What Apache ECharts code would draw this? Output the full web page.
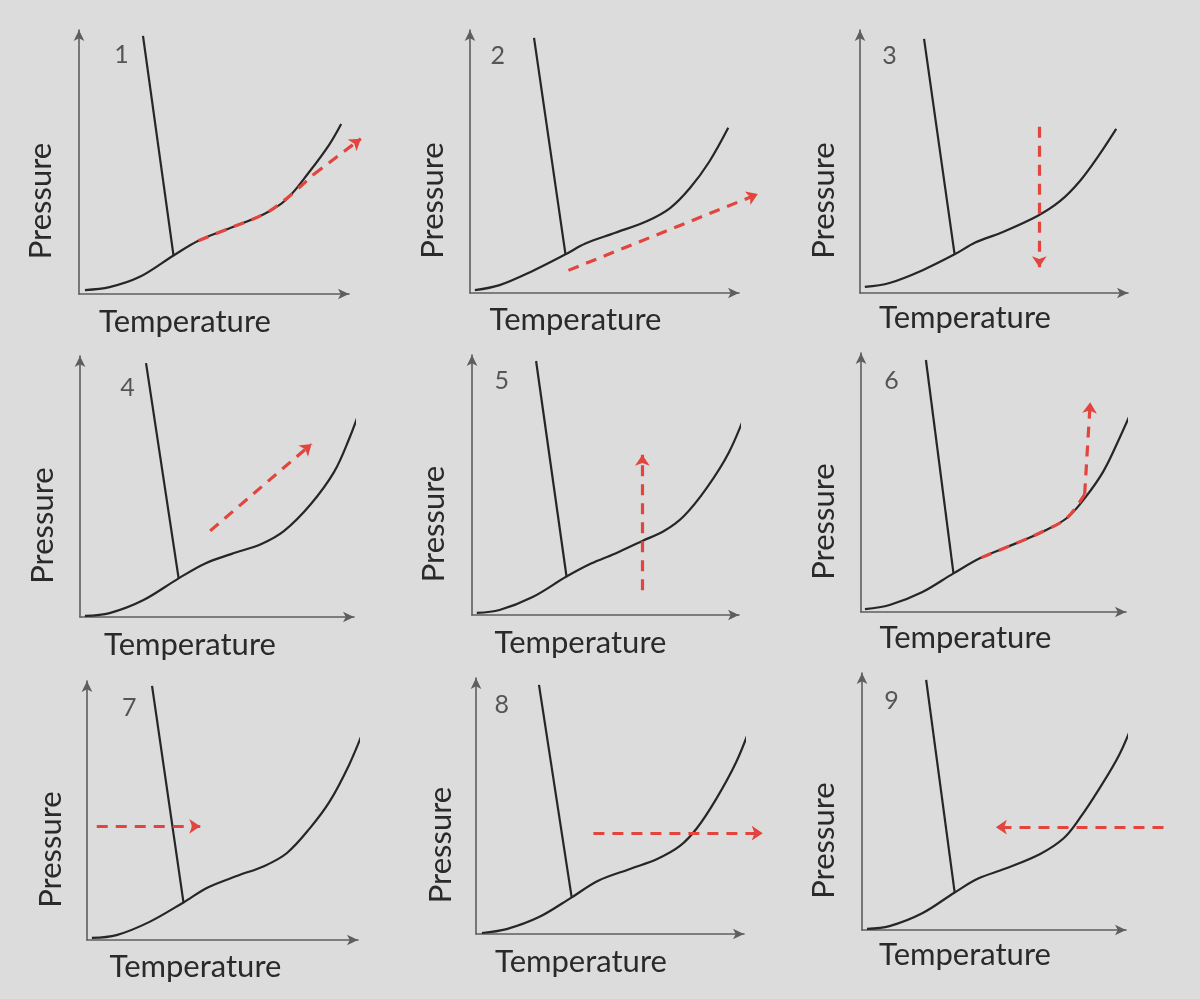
<!DOCTYPE html>
<html>
<head>
<meta charset="utf-8">
<script src="https://cdn.jsdelivr.net/npm/echarts@6/dist/echarts.min.js"></script>
<style>
html,body{margin:0;padding:0;background:#dcdcdc;}
#chart{width:1200px;height:999px;}
</style>
</head>
<body>
<div id="chart"></div>
<script>
// ---------- DATA (sketch units: temperature 0-100, pressure 0-100) ----------
const xName = 'Temperature';
const yName = 'Pressure';
const panelLabels = ['1', '2', '3', '4', '5', '6', '7', '8', '9'];

// solid–liquid (fusion) lines: [top point, triple point]
const fusion1 = [[23.7, 97.8], [35.0, 14.6]];
const fusion2 = [[23.8, 97.0], [35.5, 14.7]];
const fusion3 = [[23.9, 96.6], [35.3, 14.7]];
const fusion4 = [[24.1, 97.3], [36.0, 14.8]];
const fusion5 = [[24.0, 97.7], [35.4, 14.8]];
const fusion6 = [[24.5, 97.3], [34.9, 14.9]];
const fusion7 = [[24.0, 98.1], [35.6, 14.5]];
const fusion8 = [[23.5, 97.3], [35.7, 14.3]];
const fusion9 = [[24.3, 97.3], [35.1, 14.6]];

// sublimation + vaporization curve
const vapor1 = [[2.2, 1.5], [11.3, 2.6], [22.3, 6.4], [35.0, 14.6], [44.2, 20.2], [56.2, 25.1], [68.6, 30.3], [77.0, 36.0], [85.4, 46.4], [92.7, 56.6], [97.1, 64.4]];
const vapor2 = [[1.8, 1.1], [11.0, 3.0], [23.1, 8.3], [35.5, 14.7], [42.9, 18.8], [54.0, 22.9], [65.9, 27.4], [74.4, 32.3], [81.7, 39.8], [89.0, 50.0], [96.0, 62.8]];
const vapor3 = [[1.8, 2.3], [11.0, 3.8], [23.2, 8.6], [35.3, 14.7], [43.0, 19.2], [52.6, 22.9], [66.2, 29.3], [74.6, 34.9], [82.0, 42.5], [89.3, 52.6], [95.6, 62.4]];
const vapor4 = [[1.8, 0.4], [10.8, 1.5], [23.0, 6.4], [36.0, 14.8], [45.7, 20.5], [55.4, 24.2], [66.2, 28.0], [74.5, 33.0], [84.2, 43.2], [92.8, 55.7], [98.2, 68.2], [102.5, 80.3]];
const vapor5 = [[1.8, 0.8], [10.3, 1.9], [22.5, 6.8], [35.4, 14.8], [44.6, 19.8], [53.5, 23.6], [63.8, 28.5], [71.9, 32.3], [79.3, 38.0], [87.8, 48.7], [96.3, 62.7], [103.3, 79.8]];
const vapor6 = [[1.5, 1.1], [10.8, 2.7], [23.0, 7.6], [34.9, 14.9], [45.4, 21.0], [58.0, 26.3], [69.1, 31.3], [77.7, 36.3], [84.4, 43.9], [91.4, 54.2], [97.4, 66.8], [103.7, 81.3]];
const vapor7 = [[1.8, 0.8], [10.9, 1.9], [22.9, 6.9], [35.6, 14.5], [44.4, 20.2], [55.5, 24.8], [65.5, 28.6], [73.8, 33.6], [82.2, 43.1], [89.5, 53.4], [96.7, 67.6], [102.2, 81.3]];
const vapor8 = [[2.2, 0.4], [11.4, 1.9], [23.5, 6.6], [35.7, 14.3], [45.6, 20.8], [57.7, 25.5], [67.6, 29.3], [76.1, 34.4], [82.4, 41.3], [89.7, 52.9], [97.1, 67.2], [102.6, 81.5]];
const vapor9 = [[1.9, 0.4], [10.4, 1.5], [22.8, 6.5], [35.1, 14.6], [44.0, 20.0], [54.1, 23.8], [67.5, 29.6], [76.5, 35.8], [82.5, 43.5], [89.9, 55.0], [97.4, 68.1], [103.0, 81.5]];

// red dashed paths that follow a curve (no arrowhead), empty when none
const redPath1 = [[44.2, 20.2], [56.2, 25.1], [68.6, 30.3], [77.0, 36.3], [86.9, 45.3]];
const redPath6 = [[45.4, 21.0], [58.0, 26.3], [69.1, 31.3], [77.7, 36.3], [84.4, 45.4]];

// red dashed arrows: [from, to]
const redArrow1 = [[86.9, 45.3], [104.4, 58.8]];
const redArrow2 = [[36.6, 8.6], [107.0, 37.6]];
const redArrow3 = [[66.9, 63.2], [66.9, 9.8]];
const redArrow4 = [[47.5, 33.0], [84.5, 66.3]];
const redArrow5 = [[63.8, 9.5], [63.8, 61.6]];
const redArrow6 = [[84.4, 45.4], [86.5, 81.0]];
const redArrow7 = [[3.6, 43.9], [41.8, 43.9]];
const redArrow8 = [[43.8, 39.4], [107.0, 39.4]];
const redArrow9 = [[114.2, 40.0], [50.7, 40.0]];

const fusionLines = [fusion1, fusion2, fusion3, fusion4, fusion5, fusion6, fusion7, fusion8, fusion9];
const vaporCurves = [vapor1, vapor2, vapor3, vapor4, vapor5, vapor6, vapor7, vapor8, vapor9];
const redPaths = [redPath1, [], [], [], [], redPath6, [], [], []];
const redArrows = [redArrow1, redArrow2, redArrow3, redArrow4, redArrow5, redArrow6, redArrow7, redArrow8, redArrow9];

// ---------- LAYOUT ----------
const grids = [
  {left: 79, top: 30, width: 270, height: 264},
  {left: 470, top: 30, width: 269, height: 263},
  {left: 860, top: 30, width: 268, height: 263},
  {left: 80, top: 356, width: 274, height: 261},
  {left: 472, top: 355, width: 267, height: 260},
  {left: 861, top: 353, width: 265, height: 259},
  {left: 87, top: 681, width: 271, height: 259},
  {left: 476, top: 678, width: 268, height: 256},
  {left: 862, top: 673, width: 264, height: 257}
];
const labelAt = [[15.7, 90.6], [10.3, 90.2], [11.0, 90.2], [17.3, 87.9], [11.1, 90.1], [11.5, 89.3], [15.6, 89.7], [9.6, 89.6], [11.2, 89.2]];
const xNameShift = [-29, -29, -29, -27, -25, -28, -27, -29, -29];
const xNameGap = [12, 11, 9, 12, 12, 10, 11, 12, 9];
const yNameGap = [23, 22, 21, 22, 23, 22, 21, 20, 23];

const FONT = 'Lato, "Open Sans", sans-serif';
const INK = '#262626';
const RED = '#e2453e';
const AXIS = '#5e5e5e';

const xAxes = [], yAxes = [], series = [];
grids.forEach((g, i) => {
  const shift = xNameShift[i];
  xAxes.push({
    gridIndex: i, type: 'value', min: 0, max: 100,
    name: xName, nameLocation: 'middle', nameGap: xNameGap[i],
    nameTextStyle: {fontFamily: FONT, fontSize: 31, color: '#2a2a2a',
      padding: shift < 0 ? [0, -2 * shift, 0, 0] : [0, 0, 0, 2 * shift]},
    axisLine: {show: true, symbol: ['none', 'arrow'], symbolSize: [8, 11],
      lineStyle: {color: AXIS, width: 1.6}},
    axisTick: {show: false}, axisLabel: {show: false}, splitLine: {show: false}
  });
  yAxes.push({
    gridIndex: i, type: 'value', min: 0, max: 100,
    name: yName, nameLocation: 'middle', nameGap: yNameGap[i],
    nameTextStyle: {fontFamily: FONT, fontSize: 31, color: '#2a2a2a', padding: [0, 78, 0, 0]},
    axisLine: {show: true, symbol: ['none', 'arrow'], symbolSize: [8, 11],
      lineStyle: {color: AXIS, width: 1.6}},
    axisTick: {show: false}, axisLabel: {show: false}, splitLine: {show: false}
  });
  series.push({
    type: 'line', xAxisIndex: i, yAxisIndex: i, data: fusionLines[i],
    symbol: 'none', clip: false, lineStyle: {color: INK, width: 2.2}, silent: true
  });
  series.push({
    type: 'line', xAxisIndex: i, yAxisIndex: i, data: vaporCurves[i], smooth: 0.35,
    symbol: 'none', clip: false, lineStyle: {color: INK, width: 2.2}, silent: true
  });
  if (redPaths[i].length) {
    series.push({
      type: 'line', xAxisIndex: i, yAxisIndex: i, data: redPaths[i], smooth: 0.35,
      symbol: 'none', clip: false, z: 5,
      lineStyle: {color: RED, width: 3.2, type: [11, 8]}, silent: true
    });
  }
  series.push({
    type: 'lines', coordinateSystem: 'cartesian2d', xAxisIndex: i, yAxisIndex: i,
    clip: false, z: 5, silent: true,
    symbol: ['none', 'arrow'], symbolSize: 11,
    lineStyle: {color: RED, width: 3.2, type: [11, 8], opacity: 1},
    data: [{coords: redArrows[i]}]
  });
  series.push({
    type: 'scatter', xAxisIndex: i, yAxisIndex: i, symbolSize: 0, silent: true,
    data: [labelAt[i]],
    label: {show: true, position: 'inside', formatter: panelLabels[i],
      fontFamily: FONT, fontSize: 25, color: '#333'}
  });
});

const chart = echarts.init(document.getElementById('chart'), null, {renderer: 'canvas'});
chart.setOption({
  backgroundColor: '#dcdcdc',
  animation: false,
  grid: grids,
  xAxis: xAxes,
  yAxis: yAxes,
  series: series
});
</script>
</body>
</html>
